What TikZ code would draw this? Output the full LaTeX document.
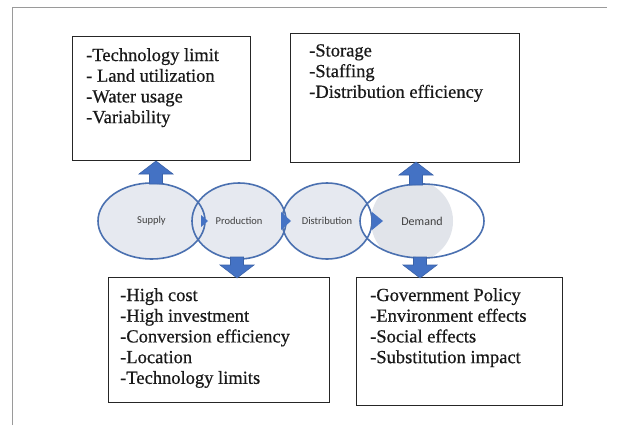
\documentclass[tikz,border=0pt]{standalone}
\usepackage{fontspec}
\setmainfont{Liberation Serif}
\newfontfamily\lserif{Liberation Serif}[FakeBold=0.6]
\newfontfamily\calib{Carlito}
\usetikzlibrary{shapes.geometric}
\definecolor{ellblue}{HTML}{4A70B0}
\definecolor{ellfill}{HTML}{E6E9F0}
\definecolor{demfill}{HTML}{E1E4EA}
\definecolor{arrblue}{HTML}{4472C4}
\definecolor{arredge}{HTML}{3A62A8}
\definecolor{framegray}{HTML}{9A9A9A}
\definecolor{labgray}{HTML}{404040}
\begin{document}
\begin{tikzpicture}[x=1pt,y=-1pt,
  box/.style={draw=black!85, line width=1.4pt, inner sep=0pt, anchor=north west},
  boxtext/.style={font=\lserif\fontsize{18.5}{20.7}\selectfont, align=left, inner sep=0pt, anchor=north west, text=black!90},
  ell/.style={ellipse, draw=ellblue, line width=1.6pt, inner sep=0pt, text=labgray, font=\calib\fontsize{10.5}{12}\selectfont},
  barrow/.style={fill=arrblue, draw=arredge, line width=0.6pt, line join=miter},
  chev/.style={fill=arrblue, draw=none},
  pics/blockarrow/.style={code={
    \path[barrow] (-6.5,0) -- (-6.5,{#1-13}) -- (-17,{#1-13}) -- (0,#1) -- (17,{#1-13}) -- (6.5,{#1-13}) -- (6.5,0) -- cycle;}}
]
\useasboundingbox (0,0) rectangle (617,425);
\fill[white] (0,0) rectangle (617,425);
% frame
\draw[framegray, line width=1pt] (12,425) -- (12,8) -- (607,8);

% boxes
\node[box, minimum width=178pt, minimum height=124pt] (b1) at (72,36) {};
\node[box, minimum width=229pt, minimum height=129pt] (b2) at (290,33) {};
\node[box, minimum width=221pt, minimum height=125pt] (b3) at (108,277) {};
\node[box, minimum width=206pt, minimum height=128pt] (b4) at (356,277) {};

\node[boxtext] (t1) at (86,48) {-Technology limit\\- Land utilization\\-Water usage\\-Variability};
\node[boxtext] (t2) at (309,44) {-Storage\\-Staffing\\-Distribution efficiency};
\node[boxtext] (t3) at (120,288) {-High cost\\-High investment\\-Conversion efficiency\\-Location\\-Technology limits};
\node[boxtext] (t4) at (370,288) {-Government Policy\\-Environment effects\\-Social effects\\-Substitution impact};

% ellipse fills
\fill[ellfill] (151.5,221) ellipse [x radius=53.5, y radius=38];
\fill[ellfill] (239,221) ellipse [x radius=47, y radius=38];
\fill[ellfill] (327,221) ellipse [x radius=45, y radius=38];
\fill[white] (422,221) ellipse [x radius=62, y radius=37];
\begin{scope}
  \clip (422,221) ellipse [x radius=62, y radius=37];
  \fill[demfill] (412,221) circle [radius=41];
\end{scope}

% ellipse nodes (outlines + labels)
\node[ell, minimum width=107pt, minimum height=76pt] (sup) at (151.5,221) {Supply};
\node[ell, minimum width=94pt, minimum height=76pt] (pro) at (239,221) {Production};
\node[ell, minimum width=90pt, minimum height=76pt] (dis) at (327,221) {Distribution};
\node[ell, minimum width=124pt, minimum height=74pt, font=\calib\fontsize{12}{14}\selectfont] (dem) at (422,221) {Demand};

% chevrons between the stages
\fill[chev] (201,215) -- (208,221) -- (201,227) -- cycle;
\fill[chev] (281,212) -- (291,221) -- (281,230) -- cycle;
\fill[chev] (372,212) -- (383,221) -- (372,230) -- cycle;

% block arrows
\coordinate (a1) at (156,184);
\coordinate (a2) at (416,185);
\coordinate (a3) at (237,257);
\coordinate (a4) at (420,257);
\pic[rotate=180] at (a1) {blockarrow=23};
\pic[rotate=180] at (a2) {blockarrow=23};
\pic at (a3) {blockarrow=21};
\pic at (a4) {blockarrow=21};
\end{tikzpicture}
\end{document}
